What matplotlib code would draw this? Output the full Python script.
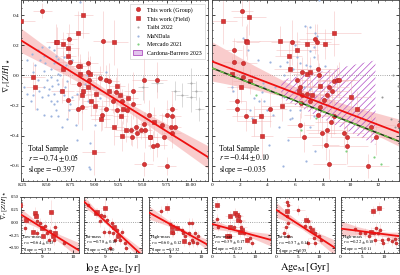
import numpy as np
import matplotlib
matplotlib.use("Agg")
import matplotlib.pyplot as plt
from matplotlib.lines import Line2D
from matplotlib.patches import Patch
from matplotlib.ticker import AutoMinorLocator, FormatStrFormatter

plt.rcParams['font.family'] = ['Liberation Serif', 'DejaVu Serif']
plt.rcParams['mathtext.fontset'] = 'stix'
plt.rcParams['hatch.linewidth'] = 0.5

# ---------------- data (x, y, xerr, yerr) ----------------
tl_group = [(8.45,0.43,0.10,0.05),(8.73,0.24,0.08,0.10),(8.74,0.09,0.12,0.15),(8.93,0.08,0.10,0.08),
    (8.82,0.06,0.06,0.12),(8.93,0.02,0.15,0.10),(9.08,0.23,0.10,0.20),(8.83,-0.06,0.08,0.10),
    (9.05,-0.02,0.12,0.08),(9.12,-0.03,0.06,0.10),(9.15,-0.04,0.10,0.12),(8.94,-0.03,0.08,0.06),
    (8.82,-0.22,0.10,0.10),(8.87,-0.21,0.06,0.15),(9.07,-0.26,0.12,0.10),(9.12,-0.22,0.08,0.12),
    (9.19,-0.17,0.10,0.08),(9.22,-0.11,0.06,0.10),(9.40,-0.10,0.10,0.12),(9.40,-0.19,0.08,0.10),
    (9.34,-0.23,0.12,0.08),(9.38,-0.36,0.08,0.10),(9.39,-0.41,0.10,0.06),(9.43,-0.34,0.06,0.08),
    (9.44,-0.38,0.08,0.10),(9.48,-0.36,0.10,0.06),(9.51,-0.32,0.06,0.08),(9.52,-0.36,0.08,0.12),
    (9.51,-0.59,0.10,0.08),(9.51,-0.03,0.12,0.15),(9.65,-0.03,0.10,0.12),(9.56,-0.26,0.08,0.10),
    (9.70,-0.33,0.06,0.08),(9.75,-0.26,0.08,0.10),(9.80,-0.22,0.06,0.12),(9.80,-0.27,0.10,0.08),
    (9.79,-0.34,0.08,0.06),(9.84,-0.34,0.06,0.08),(9.80,-0.38,0.10,0.10),(9.72,-0.41,0.08,0.08),
    (9.61,-0.47,0.06,0.10),(9.65,-0.46,0.10,0.08),(9.57,-0.41,0.08,0.06),(9.75,-0.60,0.10,0.06),
    (9.23,-0.23,0.06,0.10),(9.28,-0.17,0.08,0.08),(8.72,-0.16,0.06,0.12)]
tl_field = [(8.23,0.36,0.15,0.10),(8.88,0.40,0.10,0.15),(8.82,0.28,0.12,0.15),(8.59,0.22,0.10,0.12),
    (8.61,0.22,0.08,0.10),(8.67,0.21,0.10,0.08),(8.72,0.18,0.12,0.10),(8.72,0.13,0.08,0.10),
    (8.67,0.04,0.10,0.12),(8.36,-0.01,0.12,0.10),(8.38,-0.08,0.10,0.15),(8.85,0.06,0.10,0.08),
    (8.85,0.01,0.08,0.10),(8.95,0.01,0.12,0.12),(8.93,-0.08,0.10,0.08),(8.88,-0.10,0.08,0.10),
    (8.87,-0.13,0.10,0.12),(8.66,-0.10,0.12,0.08),(8.96,-0.17,0.08,0.10),(9.01,-0.12,0.10,0.12),
    (9.00,-0.20,0.12,0.10),(9.06,-0.29,0.10,0.08),(9.20,0.22,0.15,0.15),(9.15,-0.10,0.10,0.10),
    (9.23,-0.07,0.08,0.12),(9.26,-0.13,0.10,0.08),(9.29,-0.22,0.12,0.10),(9.27,-0.27,0.08,0.10),
    (9.20,-0.34,0.10,0.12),(9.33,-0.36,0.12,0.08),(9.28,-0.40,0.08,0.10),(9.35,-0.15,0.10,0.10),
    (8.99,-0.51,0.12,0.15),(9.62,-0.31,0.10,0.10),(9.58,-0.41,0.08,0.08)]
tl_mandala_x = [8.29,8.29,8.34,8.41,8.43,8.47,8.50,8.51,8.54,8.57,8.45,8.40,8.47,8.54,8.62,8.66,8.71,8.73,
    8.61,8.62,8.64,8.55,8.52,8.47,8.42,8.36,8.57,8.68,8.71,8.74,8.76,8.81,8.64,8.54,8.57,8.62,8.68,8.59,
    8.52,8.57,8.45,8.47,8.61,8.59,8.71,8.92,8.93,8.80,8.81,8.94,8.95,8.85,8.62,8.54,8.66,8.48,8.36,8.41,
    8.69,8.90,8.99,8.81,8.33,8.26,8.38,8.76,8.70,9.12,9.05,9.00,8.95]
tl_mandala_y = [0.10,-0.12,0.14,0.17,0.10,0.03,-0.03,-0.13,-0.17,-0.19,-0.14,-0.22,-0.26,-0.27,-0.27,-0.34,
    -0.29,-0.23,-0.03,-0.06,-0.10,-0.07,-0.09,-0.08,-0.10,-0.13,-0.12,-0.13,-0.17,-0.19,-0.14,-0.12,0.00,
    0.04,0.08,0.11,0.12,0.13,0.19,0.17,0.19,0.13,-0.17,-0.23,-0.04,0.00,-0.17,-0.33,-0.43,-0.61,-0.62,0.49,
    0.01,-0.01,0.06,0.08,0.02,-0.03,-0.08,-0.06,-0.08,-0.23,-0.17,-0.08,0.07,0.10,0.07,0.02,-0.15,-0.33,-0.45]
tl_taibi = [(9.84,-0.10,0.05,0.06),(9.91,-0.13,0.06,0.08),(10.00,-0.14,0.05,0.10),(10.06,-0.10,0.06,0.06),
    (10.09,-0.22,0.05,0.08),(9.65,-0.05,0.06,0.06),(9.50,-0.08,0.05,0.08),(10.00,-0.05,0.04,0.10)]

tr_field = [(0.77,0.36,1.0,0.15),(2.7,0.39,1.2,0.12),(2.46,0.23,1.0,0.10),(2.56,0.22,0.8,0.12),
    (4.88,0.23,1.5,0.10),(6.86,0.21,1.2,0.12),(8.14,0.21,1.0,0.10),(8.79,0.28,2.0,0.15),(5.53,0.13,1.0,0.10),
    (6.14,0.17,1.5,0.12),(5.65,0.04,1.2,0.10),(6.86,0.01,1.0,0.08),(7.1,0.02,1.5,0.10),(1.45,0.01,0.8,0.12),
    (2.08,-0.08,1.0,0.10),(2.75,-0.04,1.2,0.08),(5.07,-0.20,1.5,0.10),(3.55,-0.27,1.0,0.12),
    (3.04,-0.30,1.2,0.10),(3.62,-0.40,0.8,0.15),(6.28,-0.10,1.0,0.08),(7.25,-0.13,1.2,0.10),
    (10.0,-0.14,1.5,0.10),(10.48,-0.22,1.0,0.12),(7.78,-0.07,1.2,0.10)]
tr_group = [(2.15,0.43,0.8,0.10),(1.59,0.17,0.6,0.08),(1.62,0.09,0.8,0.10),(2.27,0.08,1.0,0.12),
    (2.27,-0.01,0.8,0.08),(1.84,-0.17,0.6,0.10),(1.84,-0.22,0.8,0.08),(2.44,-0.27,1.0,0.10),
    (4.2,-0.22,1.2,0.12),(5.77,0.22,1.5,0.15),(7.46,0.24,1.2,0.10),(7.58,0.22,1.0,0.12),(7.63,0.04,1.5,0.10),
    (7.7,0.0,1.0,0.08),(6.5,0.02,1.2,0.10),(6.14,-0.03,1.0,0.12),(6.38,-0.08,1.5,0.10),(6.5,-0.13,1.0,0.08),
    (6.86,-0.12,1.2,0.10),(7.1,-0.17,1.0,0.12),(6.43,-0.18,1.5,0.10),(6.38,-0.33,1.0,0.08),
    (6.62,-0.41,1.2,0.10),(7.63,-0.26,1.0,0.12),(7.82,-0.21,1.5,0.10),(8.1,-0.16,1.2,0.08),
    (8.3,-0.13,1.0,0.10),(8.42,-0.08,1.5,0.12),(8.67,-0.10,1.2,0.10),(8.79,-0.04,1.0,0.08),
    (9.03,-0.03,1.5,0.10),(9.15,-0.03,1.2,0.12),(7.95,-0.38,1.0,0.10),(8.3,-0.36,1.5,0.08),
    (8.6,-0.31,1.2,0.10),(8.84,-0.27,1.0,0.12),(9.5,-0.38,1.5,0.10),(9.75,-0.41,1.2,0.08),
    (8.2,-0.46,1.0,0.10),(9.75,-0.47,1.5,0.12),(8.48,-0.59,1.2,0.10),(11.26,-0.60,1.5,0.08),
    (11.5,-0.34,1.0,0.10),(11.86,-0.41,1.2,0.12),(13.5,-0.33,1.0,0.10)]
tr_mandala_x = [2.22,2.63,3.31,4.20,4.88,5.41,6.01,6.14,6.38,6.81,7.10,7.34,7.39,7.46,7.58,7.10,5.85,5.17,
    4.57,3.60,3.36,3.00,2.75,2.87,3.72,3.96,4.40,4.81,4.08,5.12,5.60,5.77,5.46,5.17,4.25,5.65,6.38,6.62,
    6.81,7.34,7.10,7.46,6.81,7.70,7.10,6.69,8.19,7.10,7.70,1.42,1.54,2.39,3.00,3.67,3.72]
tr_mandala_y = [0.25,0.17,0.10,0.09,0.06,0.09,0.20,0.12,0.08,0.07,0.16,0.19,0.12,0.28,0.26,0.06,0.04,0.00,
    -0.08,-0.11,-0.17,-0.15,-0.23,-0.28,-0.17,-0.23,-0.26,-0.34,-0.46,-0.60,-0.23,-0.28,-0.43,-0.14,-0.10,
    -0.29,-0.23,-0.08,-0.19,-0.27,-0.34,-0.50,-0.57,0.50,0.32,0.33,0.06,-0.09,-0.17,-0.08,-0.10,0.01,-0.01,
    -0.05,-0.08]
tr_mercado_x = [3.16, 7.5, 9.7, 11.7, 12.2, 6.4]
tr_mercado_y = [-0.13, -0.28, -0.50, -0.54, -0.59, -0.36]
tr_taibi_x = [13.1, 13.4, 12.3, 12.9, 13.2]
tr_taibi_y = [0.0, -0.07, -0.14, -0.29, -0.34]

# Cardona-Barrero 2023 region
cb_x = [5.0, 11.8]
cb_upper = [-0.03, 0.10]
cb_lower = [-0.15, -0.46]
# Cardona-Barrero relation (dashed)
cb_slope, cb_icpt = -0.036, 0.049

# bottom panels: (x, y, xerr, yerr, square?)
p1 = [(8.30,0.35,0.1,0.1,1),(8.47,0.05,0.08,0.08,1),(8.43,-0.11,0.06,0.1,0),(8.77,0.18,0.1,0.12,1),
    (8.80,0.12,0.08,0.1,1),(8.83,0.02,0.06,0.08,0),(8.94,-0.01,0.1,0.1,0),(8.72,-0.18,0.08,0.1,1),
    (8.83,-0.21,0.06,0.08,0),(9.00,-0.11,0.1,0.12,1),(9.03,-0.27,0.08,0.1,1),(9.17,-0.21,0.06,0.1,0),
    (9.28,0.20,0.1,0.25,1),(9.26,-0.17,0.08,0.1,0),(9.34,-0.27,0.06,0.08,1),(9.38,-0.34,0.08,0.1,0),
    (9.42,-0.09,0.1,0.1,0),(9.43,-0.21,0.08,0.08,1),(9.11,-0.06,0.06,0.1,0),(9.72,-0.40,0.08,0.06,0),
    (9.23,-0.34,0.06,0.08,0)]
p2 = [(8.44,0.35,0.1,0.1,0),(8.68,0.18,0.08,0.1,1),(8.73,0.20,0.1,0.08,1),(8.84,0.15,0.08,0.1,0),
    (8.97,0.28,0.12,0.2,1),(8.94,0.12,0.06,0.1,0),(9.05,0.05,0.08,0.1,0),(9.21,-0.01,0.1,0.1,0),
    (9.26,-0.08,0.06,0.08,1),(9.10,-0.18,0.08,0.1,0),(9.24,-0.21,0.1,0.1,0),(9.37,-0.14,0.06,0.08,0),
    (9.42,-0.27,0.08,0.1,1),(9.47,-0.34,0.06,0.08,0),(9.31,-0.34,0.08,0.1,0),(9.63,-0.40,0.06,0.08,0),
    (9.68,-0.50,0.08,0.06,0),(8.94,-0.18,0.1,0.1,0),(9.15,-0.50,0.06,0.08,0),(8.82,0.02,0.08,0.1,0),
    (9.52,-0.18,0.06,0.08,0)]
p3 = [(8.69,0.22,0.1,0.1,0),(8.90,0.28,0.1,0.1,1),(8.99,-0.04,0.08,0.1,0),(9.06,-0.08,0.06,0.08,1),
    (9.06,-0.18,0.08,0.1,1),(9.11,-0.21,0.06,0.08,0),(9.22,-0.11,0.08,0.1,1),(9.38,-0.14,0.06,0.08,0),
    (9.42,-0.21,0.08,0.1,0),(9.49,-0.27,0.06,0.08,0),(9.44,-0.37,0.08,0.1,1),(9.60,-0.01,0.06,0.1,0),
    (9.71,-0.01,0.08,0.1,0),(9.63,-0.21,0.06,0.08,0),(9.71,-0.34,0.08,0.1,0),(9.81,-0.21,0.06,0.08,0),
    (9.92,-0.27,0.08,0.1,0),(9.87,-0.40,0.06,0.08,0),(9.74,-0.39,0.08,0.1,0),(9.60,-0.40,0.06,0.08,0)]
p4 = [(1.09,0.35,0.8,0.1,1),(1.2,0.06,0.6,0.1,0),(1.47,-0.08,0.8,0.08,0),(4.19,0.12,1.2,0.1,1),
    (5.35,0.18,1.0,0.1,1),(5.74,0.15,1.2,0.08,1),(6.12,0.12,1.0,0.1,0),(6.0,0.05,1.5,0.1,1),
    (6.5,0.02,1.0,0.08,0),(4.19,-0.08,1.2,0.1,1),(4.97,-0.08,1.0,0.1,0),(6.8,-0.08,1.2,0.08,0),
    (7.0,-0.14,1.0,0.1,1),(7.3,-0.21,1.5,0.1,0),(3.88,-0.27,1.0,0.08,1),(3.5,-0.27,0.8,0.1,1),
    (4.2,-0.27,1.0,0.1,0),(8.0,-0.34,1.2,0.08,1),(8.8,-0.31,1.0,0.1,0),(9.2,-0.40,0.8,0.08,0),
    (6.4,-0.18,1.2,0.1,1)]
p5 = [(2.45,0.41,0.8,0.1,0),(2.8,0.35,1.0,0.1,0),(2.45,0.22,0.8,0.1,1),(2.45,0.12,1.0,0.1,0),
    (2.8,-0.01,0.8,0.08,0),(2.3,-0.08,1.0,0.1,0),(5.1,0.25,1.5,0.1,0),(7.0,0.05,1.2,0.1,1),
    (7.4,0.02,1.0,0.08,0),(7.8,-0.08,1.2,0.1,0),(6.7,-0.07,1.0,0.1,0),(8.2,-0.14,1.2,0.08,1),
    (8.9,-0.21,1.0,0.1,0),(8.7,-0.31,1.2,0.1,0),(8.9,-0.40,1.0,0.08,0),(10.0,-0.27,1.2,0.1,0),
    (1.9,-0.21,0.8,0.1,0),(2.8,-0.26,1.0,0.08,0),(7.4,-0.40,1.0,0.1,0),(10.4,-0.34,1.2,0.08,0)]
p6 = [(7.6,0.22,1.0,0.1,1),(8.8,0.28,1.2,0.12,1),(4.6,-0.21,1.0,0.08,0),(5.7,-0.21,1.2,0.1,0),
    (7.1,-0.18,1.0,0.1,1),(7.8,-0.20,1.2,0.08,0),(8.3,-0.11,1.0,0.1,0),(9.1,-0.14,1.2,0.1,0),
    (8.7,-0.21,1.0,0.08,0),(6.5,-0.27,1.2,0.1,0),(8.0,-0.34,1.0,0.1,0),(9.5,-0.34,1.2,0.08,0),
    (9.9,-0.40,1.0,0.1,0),(11.0,-0.33,1.2,0.08,0),(11.8,-0.37,1.0,0.1,0),(12.5,-0.33,1.2,0.08,0),
    (12.9,-0.40,1.0,0.1,0),(3.3,-0.13,1.0,0.1,0)]

# fits: slope, intercept, band sample x, band half-width
fit_tl = dict(slope=-0.397, icpt=3.500, bx=[8.23, 8.7, 9.15, 9.6, 10.18], hw=[0.08, 0.045, 0.025, 0.04, 0.075])
fit_tr = dict(slope=-0.035, icpt=0.093, bx=[0, 3, 6.5, 10, 13.5], hw=[0.13, 0.08, 0.035, 0.055, 0.09])
fits_bottom = [
    dict(slope=-0.373, icpt=3.256, bx=[8.3, 8.8, 9.1, 9.6, 10.2], hw=[0.12, 0.06, 0.05, 0.08, 0.15]),
    dict(slope=-0.560, icpt=5.058, bx=[8.3, 8.8, 9.2, 9.6, 10.2], hw=[0.10, 0.05, 0.04, 0.06, 0.12]),
    dict(slope=-0.332, icpt=2.956, bx=[8.3, 8.9, 9.35, 9.8, 10.2], hw=[0.13, 0.06, 0.04, 0.06, 0.10]),
    dict(slope=-0.023, icpt=-0.03, bx=[0, 3, 5.5, 9, 13.5], hw=[0.10, 0.06, 0.04, 0.06, 0.12]),
    dict(slope=-0.055, icpt=0.25, bx=[0, 3, 6, 9, 13.5], hw=[0.15, 0.08, 0.05, 0.07, 0.15]),
    dict(slope=-0.011, icpt=-0.12, bx=[0, 4, 8, 11, 13.5], hw=[0.15, 0.08, 0.04, 0.05, 0.08]),
]
bottom_data = [p1, p2, p3, p4, p5, p6]
bottom_labels = ["Low-mass", "Int-mass", "High-mass", "Low-mass", "Int-mass", "High-mass"]
bottom_r = ["-0.64", "-0.78", "-0.60", "-0.39", "-0.57", "-0.22"]
bottom_rerr = ["0.13", "0.10", "0.12", "0.17", "0.14", "0.18"]
bottom_slope = ["-0.373", "-0.560", "-0.332", "-0.023", "-0.055", "-0.011"]

RED = '#d93636'
REDEDGE = '#b52424'
ERR = '#f3b0b0'
BAND = '#f59a9a'
BLUE = '#9db4de'

W, H = 400, 275
fig = plt.figure(figsize=(4, 2.75), dpi=100)

def ax_px(l, t, r, b):
    return fig.add_axes([l / W, 1 - b / H, (r - l) / W, (b - t) / H])

def style(ax, ls=3.8):
    ax.tick_params(which='both', direction='in', top=True, right=True, labelsize=ls, pad=1.5, width=0.5)
    ax.tick_params(which='major', length=2)
    ax.tick_params(which='minor', length=1)
    ax.xaxis.set_minor_locator(AutoMinorLocator())
    ax.yaxis.set_minor_locator(AutoMinorLocator())
    for s in ax.spines.values():
        s.set_linewidth(0.6)
        s.set_color('#444444')

def draw_fit(ax, f, xlim):
    bx = np.array(f['bx'])
    hw = np.array(f['hw'])
    yl = f['icpt'] + f['slope'] * bx
    ax.fill_between(bx, yl - hw, yl + hw, color=BAND, alpha=0.5, lw=0, zorder=1)
    xs = np.array(xlim)
    ax.plot(xs, f['icpt'] + f['slope'] * xs, color='#ee1111', lw=1.3, zorder=6)

def red_pts(ax, data, marker, ms, elw=0.5):
    a = np.array(data, dtype=float)
    ax.errorbar(a[:, 0], a[:, 1], xerr=a[:, 2], yerr=a[:, 3], fmt='none', ecolor=ERR,
                elinewidth=elw, alpha=0.6, zorder=2)
    ax.plot(a[:, 0], a[:, 1], ls='none', marker=marker, ms=ms, mfc=RED, mec=REDEDGE, mew=0.4, zorder=5)

# ---------------- top-left ----------------
axL = ax_px(21, 0, 208, 181)
xl = (8.23, 10.18)
axL.set_xlim(*xl)
axL.set_ylim(-0.7, 0.5)
axL.axhline(0, color='#888888', ls=':', lw=0.6, zorder=1)
draw_fit(axL, fit_tl, xl)
axL.plot(tl_mandala_x, tl_mandala_y, ls='none', marker='o', ms=1.6, mfc=BLUE, mec='none', zorder=3)
a = np.array(tl_taibi)
axL.errorbar(a[:, 0], a[:, 1], xerr=a[:, 2], yerr=a[:, 3], fmt='none', ecolor='#cccccc', elinewidth=0.5, zorder=2)
axL.plot(a[:, 0], a[:, 1], ls='none', marker='o', ms=1.5, mfc='#aaaaaa', mec='none', zorder=3)
red_pts(axL, tl_field, 's', 3.3)
red_pts(axL, tl_group, 'o', 3.0)
axL.set_xticks([8.25, 8.5, 8.75, 9.0, 9.25, 9.5, 9.75, 10.0])
axL.xaxis.set_major_formatter(FormatStrFormatter('%.2f'))
axL.set_yticks([-0.6, -0.4, -0.2, 0.0, 0.2, 0.4])
axL.set_yticklabels(['\u22120.6', '\u22120.4', '\u22120.2', '0.0', '0.2', '0.4'])
style(axL)
axL.set_ylabel(r'$\nabla_r\,[Z/H]_\star$', fontsize=6)
axL.yaxis.set_label_coords(-0.05, 0.585)
axL.text(0.04, 0.2, 'Total Sample\n$r=-0.74\\pm0.05$\nslope$=-0.397$', transform=axL.transAxes,
         fontsize=5.5, va='top', ha='left', linespacing=1.0, zorder=7)

handles = [
    Line2D([], [], ls='none', marker='o', ms=3.0, mfc=RED, mec=REDEDGE, mew=0.4),
    Line2D([], [], ls='none', marker='s', ms=3.3, mfc=RED, mec=REDEDGE, mew=0.4),
    Line2D([], [], ls='none', marker='o', ms=1.5, mfc='#aaaaaa', mec='none'),
    Line2D([], [], ls='none', marker='o', ms=1.6, mfc=BLUE, mec='none'),
    Line2D([], [], ls='none', marker='o', ms=1.6, mfc='#80d080', mec='none'),
    Patch(facecolor='#e2c4ec', edgecolor='#b050c0', lw=0.6),
]
labels = ['This work (Group)', 'This work (Field)', 'Taibi 2022', 'MaNDala', 'Mercado 2021', 'Cardona-Barrero 2023']
leg = axL.legend(handles, labels, loc='upper right', fontsize=4.3, frameon=True, handlelength=1.6,
                 handletextpad=0.8, borderpad=0.5, labelspacing=0.55, fancybox=False,
                 bbox_to_anchor=(1.0, 0.995))
leg.get_frame().set_linewidth(0.4)
leg.get_frame().set_edgecolor('#bbbbbb')
leg.set_zorder(8)

# ---------------- top-right ----------------
axR = ax_px(212, 0, 399, 181)
xr = (0, 13.5)
axR.set_xlim(*xr)
axR.set_ylim(-0.7, 0.5)
axR.axhline(0, color='#888888', ls=':', lw=0.6, zorder=1)
draw_fit(axR, fit_tr, xr)
axR.fill_between(cb_x, cb_lower, cb_upper, facecolor='none', edgecolor='#b24cc6', hatch='/////', lw=0, zorder=2)
xs = np.array(xr)
axR.plot(xs, cb_icpt + cb_slope * xs, color='#1d3b12', lw=1.1, zorder=6)
axR.plot(xs, cb_icpt + cb_slope * xs, color='#6fc24a', lw=1.1, ls=(0, (3, 2.5)), zorder=6)
axR.plot(tr_mandala_x, tr_mandala_y, ls='none', marker='o', ms=1.6, mfc=BLUE, mec='none', zorder=3)
axR.plot(tr_mercado_x, tr_mercado_y, ls='none', marker='o', ms=1.6, mfc='#80d080', mec='none', zorder=3)
axR.plot(tr_taibi_x, tr_taibi_y, ls='none', marker='o', ms=1.5, mfc='#999999', mec='none', zorder=3)
red_pts(axR, tr_field, 's', 3.3)
red_pts(axR, tr_group, 'o', 3.0)
axR.set_xticks([0, 2, 4, 6, 8, 10, 12])
axR.set_yticks([-0.6, -0.4, -0.2, 0.0, 0.2, 0.4])
axR.set_yticklabels([])
style(axR)
axR.text(0.04, 0.2, 'Total Sample\n$r=-0.44\\pm0.10$\nslope$=-0.035$', transform=axR.transAxes,
         fontsize=5.5, va='top', ha='left', linespacing=1.0, zorder=7)

# ---------------- bottom panels ----------------
lefts = [20.5, 84, 148.5, 212, 276, 340.5]
for i in range(6):
    axb = ax_px(lefts[i], 197, lefts[i] + 58.5, 253)
    xlim = (8.3, 10.2) if i < 3 else (0, 13.5)
    axb.set_xlim(*xlim)
    axb.set_ylim(-0.6, 0.5)
    axb.axhline(0, color='#888888', ls=':', lw=0.6, zorder=1)
    draw_fit(axb, fits_bottom[i], xlim)
    d = bottom_data[i]
    circ = [p[:4] for p in d if p[4] == 0]
    sq = [p[:4] for p in d if p[4] == 1]
    red_pts(axb, sq, 's', 2.4, elw=0.4)
    red_pts(axb, circ, 'o', 2.1, elw=0.4)
    axb.set_xticks([9, 10] if i < 3 else [0, 5, 10])
    axb.set_yticks([-0.5, -0.25, 0.0, 0.25, 0.5])
    style(axb, ls=3.8)
    if i == 0:
        axb.set_yticklabels(['\u22120.50', '\u22120.25', '0.00', '0.25', '0.50'])
        axb.tick_params(axis='y', labelsize=3.3, pad=1.0)
        axb.set_ylabel(r'$\nabla_r\,[Z/H]_\star$', fontsize=5.0)
        axb.yaxis.set_label_coords(-0.185, 0.86)
    else:
        axb.set_yticklabels([])
    txt = '%s\n$r=%s\\pm%s$\nslope$=%s$' % (bottom_labels[i], bottom_r[i], bottom_rerr[i], bottom_slope[i])
    axb.text(0.04, 0.33, txt, transform=axb.transAxes, fontsize=3.3, va='top', ha='left',
             linespacing=0.95, zorder=7)

fig.text(113 / W, 1 - 268 / H, r'$\log\,\mathrm{Age}_\mathrm{L}\,[\mathrm{yr}]$', fontsize=7.5, ha='center', va='center')
fig.text(305 / W, 1 - 268 / H, r'$\mathrm{Age}_\mathrm{M}\,[\mathrm{Gyr}]$', fontsize=7.5, ha='center', va='center')

fig.savefig('out.png', dpi=100)
